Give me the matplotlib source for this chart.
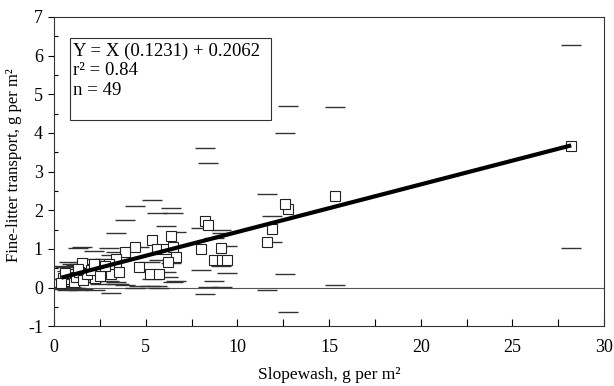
import numpy as np
import matplotlib
matplotlib.use("Agg")
import matplotlib.pyplot as plt
from matplotlib.ticker import MultipleLocator
from matplotlib.patches import Rectangle

plt.rcParams["font.family"] = ["Liberation Serif", "DejaVu Serif"]
plt.rcParams["axes.unicode_minus"] = False

# Slopewash (g per m2), fine-litter transport (g per m2) and the +/- range drawn as caps
slopewash = [28.2, 15.3, 12.75, 12.57, 11.9, 11.6, 8.22, 8.37, 9.1, 8.04,
             8.73, 9.16, 9.42, 6.4, 5.36, 4.44, 5.6, 6.1, 6.5, 6.65,
             6.24, 3.85, 3.38, 4.64, 5.26, 5.7, 1.5, 3.4, 3.1, 3.56,
             2.24, 3.0, 0.5, 0.7, 0.8, 0.9, 1.0, 1.1, 1.2, 1.35,
             0.6, 1.6, 1.8, 2.0, 2.5, 0.4, 2.8, 1.3, 2.2]
litter = [3.65, 2.36, 2.03, 2.17, 1.51, 1.18, 1.71, 1.61, 1.02, 0.99,
          0.72, 0.72, 0.72, 1.34, 1.24, 1.05, 0.99, 0.99, 1.04, 0.80,
          0.67, 0.91, 0.74, 0.54, 0.35, 0.35, 0.64, 0.53, 0.34, 0.40,
          0.24, 0.60, 0.25, 0.18, 0.30, 0.22, 0.35, 0.15, 0.28, 0.40,
          0.38, 0.20, 0.35, 0.45, 0.30, 0.12, 0.55, 0.48, 0.62]
spread = [2.63, 2.30, 2.67, 1.83, 0.33, 1.25, 1.89, 1.60, 0.46, 0.54,
          0.55, 0.70, 0.35, 0.71, 1.03, 1.07, 0.95, 0.60, 0.90, 0.63,
          0.40, 0.84, 0.66, 0.50, 0.30, 0.35, 0.40, 0.40, 0.49, 0.30,
          0.30, 0.42, 0.30, 0.25, 0.35, 0.20, 0.25, 0.15, 0.30, 0.20,
          0.15, 0.25, 0.20, 0.30, 0.22, 0.10, 0.20, 0.55, 0.33]
slope, intercept = 0.1231, 0.2062
r_squared = 0.84

x = np.array(slopewash)
y = np.array(litter)
e = np.array(spread)

fig = plt.figure(figsize=(6.14, 3.86), dpi=100)
ax = fig.add_axes([0.088, 0.155, 0.896, 0.801])

ax.axhline(0, color="#555555", lw=0.8, zorder=1)

# range caps above and below each observation
cap_kw = dict(ls="none", marker="_", ms=15, mew=1.0, color="#333333", zorder=2)
ax.plot(x, y + e, **cap_kw)
ax.plot(x, y - e, **cap_kw)

ax.plot(x, y, ls="none", marker="s", ms=6.8, mfc="white", mec="#222222",
        mew=0.8, zorder=3)

xf = np.array([x.min(), x.max()])
ax.plot(xf, slope * xf + intercept, color="black", lw=3, zorder=4,
        solid_capstyle="butt")

ax.set_xlim(0, 30)
ax.set_ylim(-1, 7)
ax.xaxis.set_major_locator(MultipleLocator(5))
ax.xaxis.set_minor_locator(MultipleLocator(2.5))
ax.yaxis.set_major_locator(MultipleLocator(1))
ax.yaxis.set_minor_locator(MultipleLocator(0.5))
ax.tick_params(axis="x", which="both", direction="in", length=5, width=0.8,
               labelsize=13, pad=9)
ax.tick_params(axis="y", which="major", direction="out", length=4, width=0.8,
               labelsize=13, pad=4)
ax.tick_params(axis="y", which="minor", direction="in", length=3, width=0.8)
for s in ax.spines.values():
    s.set_linewidth(0.8)
    s.set_color("#333333")

ax.set_xlabel("Slopewash, g per m\u00b2", fontsize=12.5, labelpad=8)
ax.set_ylabel("Fine-litter transport, g per m\u00b2", fontsize=12)
ax.yaxis.set_label_coords(-0.058, 0.52)

# regression summary box
ax.add_patch(Rectangle((0.029, 0.667), 0.366, 0.265, transform=ax.transAxes,
                       fc="white", ec="#333333", lw=0.8, zorder=5))
eq = (f"Y = X ({slope:.4f}) + {intercept:.4f}\n"
      f"r\u00b2 = {r_squared:.2f}\nn = {len(x)}")
ax.text(0.034, 0.918, eq, transform=ax.transAxes, fontsize=13.5, va="top",
        ha="left", linespacing=1.2, zorder=6)

fig.savefig("out.png", dpi=100)
